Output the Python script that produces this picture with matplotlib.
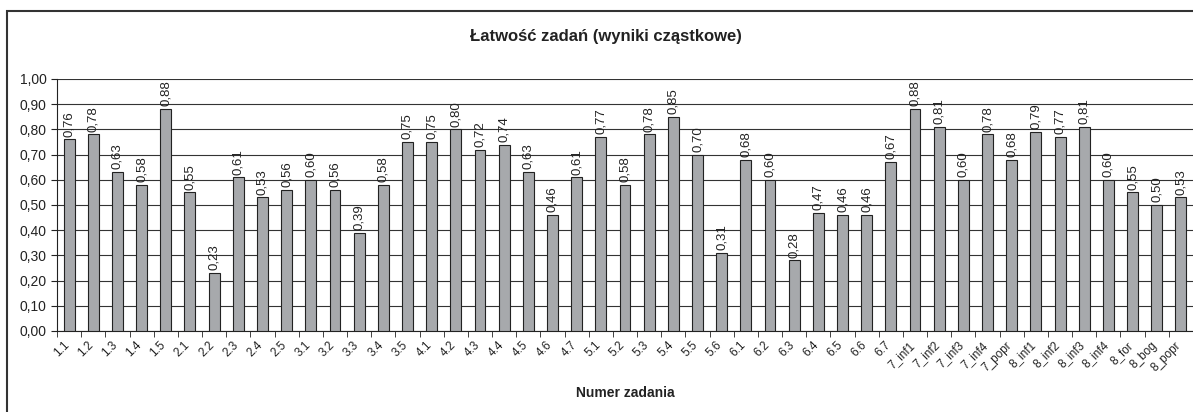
import numpy as np
import matplotlib
matplotlib.use("Agg")
import matplotlib.pyplot as plt
import matplotlib.transforms as mtransforms
from matplotlib.patches import Rectangle

plt.rcParams['font.family'] = ['Liberation Sans', 'DejaVu Sans']

# task numbers and easiness values
zadania = ["1.1", "1.2", "1.3", "1.4", "1.5",
           "2.1", "2.2", "2.3", "2.4", "2.5",
           "3.1", "3.2", "3.3", "3.4", "3.5",
           "4.1", "4.2", "4.3", "4.4", "4.5", "4.6", "4.7",
           "5.1", "5.2", "5.3", "5.4", "5.5", "5.6",
           "6.1", "6.2", "6.3", "6.4", "6.5", "6.6", "6.7",
           "7_inf1", "7_inf2", "7_inf3", "7_inf4", "7_popr",
           "8_inf1", "8_inf2", "8_inf3", "8_inf4", "8_for", "8_bog", "8_popr"]
latwosc = [0.76, 0.78, 0.63, 0.58, 0.88,
           0.55, 0.23, 0.61, 0.53, 0.56,
           0.60, 0.56, 0.39, 0.58, 0.75,
           0.75, 0.80, 0.72, 0.74, 0.63, 0.46, 0.61,
           0.77, 0.58, 0.78, 0.85, 0.70, 0.31,
           0.68, 0.60, 0.28, 0.47, 0.46, 0.46, 0.67,
           0.88, 0.81, 0.60, 0.78, 0.68,
           0.79, 0.77, 0.81, 0.60, 0.55, 0.50, 0.53]
y_ticks = [0.0, 0.1, 0.2, 0.3, 0.4, 0.5, 0.6, 0.7, 0.8, 0.9, 1.0]

W, H = 1193, 412
fig = plt.figure(figsize=(W / 100, H / 100), dpi=100)
ax = fig.add_axes([57 / W, 1 - 331 / H, (1193 - 57) / W, (331 - 79) / H])

x = np.arange(len(zadania))
ax.bar(x, latwosc, width=0.45, color='#a7a9ac', edgecolor='#222222', linewidth=0.8, zorder=3)

# value labels above bars
for xi, v in zip(x, latwosc):
    ax.annotate(f"{v:.2f}".replace('.', ','), (xi, v), xytext=(0, 2), textcoords='offset points',
                rotation=90, ha='center', va='bottom', fontsize=9.5, color='#222222')

ax.set_xlim(-0.5, len(zadania) - 0.5)
ax.set_ylim(0, 1.0)
ax.set_yticks(y_ticks)
ax.set_yticklabels([f"{t:.2f}".replace('.', ',') for t in y_ticks], fontsize=10, color='#222222')
ax.yaxis.grid(True, color='#333333', linewidth=0.8, zorder=0)
ax.set_axisbelow(True)

ax.set_xticks(x)
ax.set_xticklabels(zadania, rotation=45, ha='right', va='top', rotation_mode='anchor',
                   fontsize=8.5, color='#222222')
ax.tick_params(axis='x', which='major', length=0, pad=6)
ax.set_xticks(np.arange(-0.5, len(zadania), 1.0), minor=True)
ax.tick_params(axis='x', which='minor', length=4, direction='out', color='#222222')
ax.tick_params(axis='y', length=4, direction='out', color='#222222')
offset = mtransforms.ScaledTranslation(-6 / 100, 0, fig.dpi_scale_trans)
for lab in ax.get_xticklabels():
    lab.set_transform(lab.get_transform() + offset)

for s in ['top', 'right']:
    ax.spines[s].set_visible(False)
ax.spines['left'].set_color('#222222')
ax.spines['bottom'].set_color('#222222')

fig.text(606 / W, 1 - 36 / H, "Łatwość zadań (wyniki cząstkowe)", ha='center', va='center',
         fontsize=12, fontweight='bold', color='#222222')
fig.text(625 / W, 1 - 393 / H, "Numer zadania", ha='center', va='center',
         fontsize=10, fontweight='bold', color='#222222')

# outer chart frame
fig.patches.append(Rectangle((7 / W, -0.05), 1.1, 1 - 11 / H + 0.05, transform=fig.transFigure,
                             fill=False, edgecolor='#333333', linewidth=1.5))

fig.savefig("out.png", dpi=100)
